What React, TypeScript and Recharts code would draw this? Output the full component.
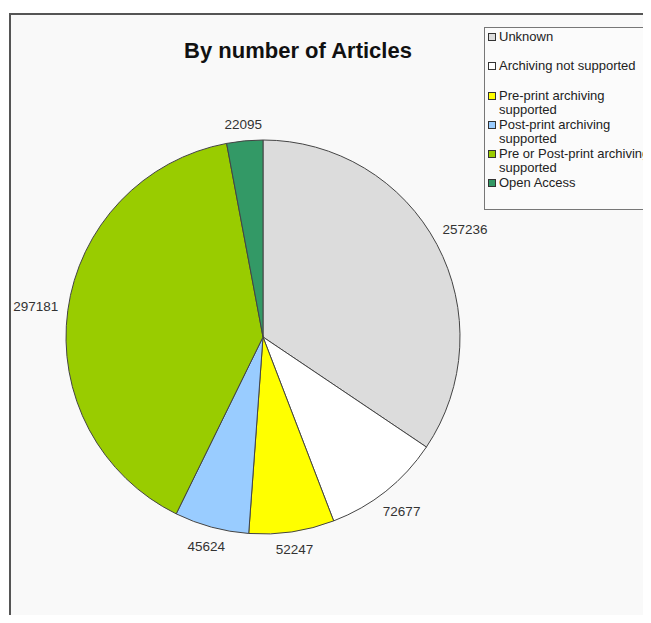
import { PieChart, Pie, Cell, Legend } from "recharts";

const categories = [
  "Unknown",
  "Archiving not supported",
  "Pre-print archiving supported",
  "Post-print archiving supported",
  "Pre or Post-print archiving supported",
  "Open Access",
];
const articleCounts = [257236, 72677, 52247, 45624, 297181, 22095];
const sliceColors = ["#dcdcdc", "#ffffff", "#ffff00", "#99ccff", "#99cc00", "#339966"];

const data = categories.map((name, i) => ({ name, value: articleCounts[i] }));

const RAD = Math.PI / 180;

function renderLabel(props: any) {
  const { cx, cy, midAngle, outerRadius, value } = props;
  const w = String(value).length * 7.6;
  const c = Math.cos(-midAngle * RAD);
  const s = Math.sin(-midAngle * RAD);
  const r = outerRadius + 9 + (w / 2) * Math.abs(c) + 6 * Math.abs(s);
  return (
    <text
      x={cx + r * c}
      y={cy + r * s}
      textAnchor="middle"
      dominantBaseline="central"
      fontSize={13.5}
      fill="#333"
      fontFamily="Liberation Sans, Arial, sans-serif"
    >
      {value}
    </text>
  );
}

function LegendBox() {
  return (
    <div
      style={{
        width: 167,
        height: 183,
        boxSizing: "border-box",
        border: "1px solid #777",
        background: "#fbfbfb",
        paddingTop: 2,
        paddingLeft: 3,
        fontFamily: "Liberation Sans, Arial, sans-serif",
        fontSize: 13,
        lineHeight: "14px",
        color: "#222",
      }}
    >
      {categories.map((name, i) => (
        <div key={name} style={{ display: "flex", alignItems: "flex-start", minHeight: 29.3 }}>
          <span
            style={{
              display: "inline-block",
              width: 6,
              height: 6,
              marginTop: 3,
              marginRight: 3,
              border: "1px solid #333",
              background: sliceColors[i],
              flexShrink: 0,
            }}
          />
          <span style={{ width: 153, flexShrink: 0 }}>{name}</span>
        </div>
      ))}
    </div>
  );
}

export default function App() {
  return (
    <div style={{ paddingTop: 5 }}>
      <div
        style={{
          marginLeft: 1,
          width: 640,
          height: 600,
          borderTop: "2px solid #555",
          borderLeft: "2px solid #555",
          background: "#f9f9f9",
          position: "relative",
          overflow: "hidden",
        }}
      >
        <div
          style={{
            position: "absolute",
            left: 137,
            width: 300,
            top: 24,
            textAlign: "center",
            fontFamily: "Liberation Sans, Arial, sans-serif",
            fontWeight: "bold",
            fontSize: 22,
            lineHeight: "24px",
            color: "#111",
            zIndex: 2,
          }}
        >
          By number of Articles
        </div>
        <PieChart width={640} height={600} margin={{ top: 0, right: 0, bottom: 0, left: 0 }}>
          <Pie
            data={data}
            dataKey="value"
            nameKey="name"
            cx={252}
            cy={322}
            outerRadius={197}
            startAngle={90}
            endAngle={-270}
            stroke="#444"
            strokeWidth={1}
            label={renderLabel}
            labelLine={false}
            isAnimationActive={false}
          >
            {data.map((d, i) => (
              <Cell key={d.name} fill={sliceColors[i]} />
            ))}
          </Pie>
          <Legend
            layout="vertical"
            align="right"
            verticalAlign="top"
            content={<LegendBox />}
            wrapperStyle={{ position: "absolute", left: 473, top: 12, width: 167 }}
          />
        </PieChart>
      </div>
    </div>
  );
}
